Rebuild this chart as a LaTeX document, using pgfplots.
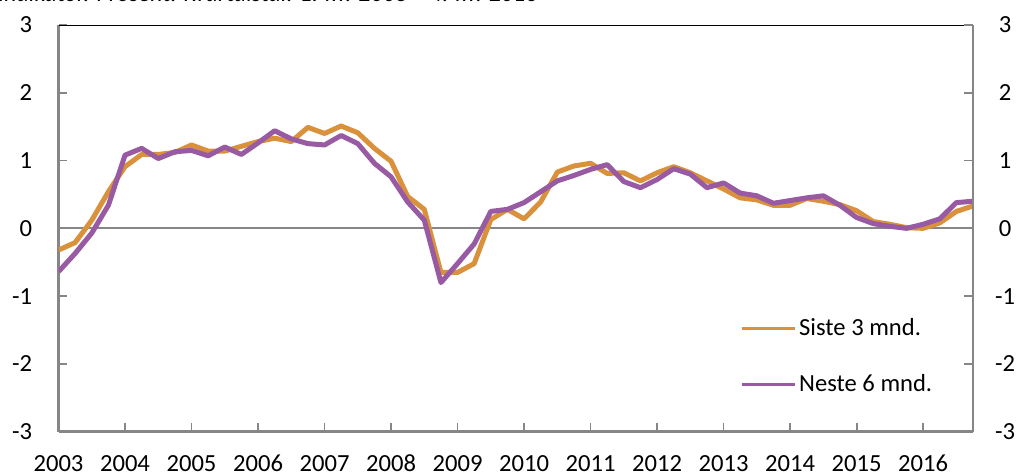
\documentclass[border=0pt]{standalone}
\usepackage{pgfplots}
\pgfplotsset{compat=1.18}
\usepackage{pgfplotstable}
\usepackage{fontspec}
\setmainfont{Carlito}
\definecolor{orng}{RGB}{217,145,60}
\definecolor{purp}{RGB}{152,90,162}
\definecolor{axgray}{RGB}{134,134,134}

\pgfplotstableread{
i siste neste
0 -0.32 -0.64
1 -0.21 -0.37
2 0.12 -0.07
3 0.54 0.34
4 0.91 1.08
5 1.09 1.18
6 1.09 1.03
7 1.12 1.13
8 1.23 1.15
9 1.14 1.07
10 1.14 1.20
11 1.21 1.09
12 1.28 1.26
13 1.33 1.44
14 1.28 1.32
15 1.49 1.25
16 1.40 1.23
17 1.51 1.37
18 1.41 1.25
19 1.18 0.96
20 0.99 0.76
21 0.47 0.39
22 0.28 0.12
23 -0.65 -0.80
24 -0.65 -0.52
25 -0.52 -0.23
26 0.13 0.25
27 0.28 0.28
28 0.14 0.38
29 0.39 0.54
30 0.83 0.70
31 0.92 0.78
32 0.96 0.87
33 0.81 0.94
34 0.82 0.69
35 0.70 0.60
36 0.82 0.72
37 0.91 0.88
38 0.82 0.80
39 0.70 0.60
40 0.58 0.67
41 0.45 0.52
42 0.42 0.48
43 0.34 0.37
44 0.34 0.41
45 0.44 0.45
46 0.40 0.48
47 0.35 0.34
48 0.26 0.16
49 0.10 0.07
50 0.06 0.03
51 0.01 0.00
52 0.00 0.06
53 0.08 0.14
54 0.25 0.38
55 0.33 0.40
}\datatable

\begin{document}
\begin{tikzpicture}
\useasboundingbox (0,0) rectangle (511.5bp,237.5bp);
\node[anchor=base west, inner sep=0pt, font=\fontsize{12bp}{14bp}\selectfont\itshape] at (-1bp,236.6bp) {Indikator. Prosent. Kvartalstal. 1. kv. 2003 -- 4. kv. 2016};
\pgfplotsset{
  base/.style={
    at={(29.25bp,21.65bp)}, anchor=south west,
    scale only axis, width=457.25bp, height=203.35bp,
    xmin=0, xmax=55, ymin=-3, ymax=3,
    ytick={-3,-2,-1,0,1,2,3},
    tick align=inside, major tick length=4.5bp,
    tick style={axgray, line width=0.9bp},
    /pgf/number format/assume math mode=true,
    ticklabel style={font=\fontsize{12.3bp}{14bp}\selectfont},
  }
}
\begin{axis}[base,
  axis x line*=bottom, axis y line*=left,
  axis line style={axgray, line width=1.3bp},
  xtick={0,4,...,52},
  xticklabels={2003,2004,2005,2006,2007,2008,2009,2010,2011,2012,2013,2014,2015,2016},
  xticklabel style={inner sep=0pt, anchor=base, yshift=-19.8bp},
  yticklabel style={inner sep=0pt, anchor=east, xshift=-13bp},
  extra y ticks={0}, extra y tick labels={},
  extra y tick style={grid=major, major grid style={axgray, line width=1bp}, tick style={draw=none}},
  legend style={at={(rel axis cs:0.745,0.288)}, anchor=north west, draw=none, fill=none,
    inner sep=0pt, row sep=15bp, font=\fontsize{12.3bp}{14bp}\selectfont,
    nodes={inner sep=1.5bp}},
  legend cell align=left,
  legend image code/.code={\draw[#1, line width=1.5bp] (0bp,0bp) -- (26.5bp,0bp);},
]
\addplot[orng, line width=2.5bp, line join=round] table[x=i, y=siste] {\datatable};
\addlegendentry{Siste 3 mnd.}
\addplot[purp, line width=2.5bp, line join=round] table[x=i, y=neste] {\datatable};
\addlegendentry{Neste 6 mnd.}
\draw[black, line width=1.3bp] (rel axis cs:0,1) -- (rel axis cs:0.99,1);
\end{axis}
\begin{axis}[base,
  axis x line=none, axis y line*=right,
  axis line style={axgray, line width=1.3bp},
  yticklabel style={inner sep=0pt, anchor=center, xshift=16bp},
]
\addplot[draw=none] coordinates {(0,0)};
\end{axis}
\end{tikzpicture}
\end{document}
